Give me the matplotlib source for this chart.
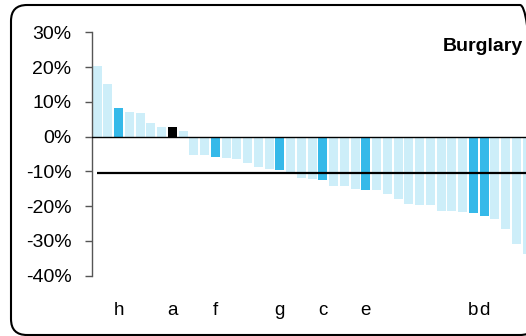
"""
Burglary: change by area, sorted, with highlighted areas.
"""
import matplotlib
matplotlib.use('Agg')
import matplotlib.pyplot as plt
from matplotlib.patches import FancyBboxPatch
from matplotlib.ticker import FixedLocator, PercentFormatter
from matplotlib.transforms import IdentityTransform

plt.rcParams['font.family'] = ['Liberation Sans', 'DejaVu Sans']
plt.rcParams['axes.unicode_minus'] = False

TITLE = 'Burglary'
VALUES = [20.4, 15.0, 8.1, 7.2, 6.7, 3.8, 2.9, 2.9, 1.5, -5.3,
          -5.3, -5.8, -6.1, -6.4, -7.5, -8.7, -9.3, -9.5, -10.2, -11.8,
          -12.1, -12.4, -14.1, -14.1, -15.0, -15.3, -15.3, -16.4, -17.8, -19.5,
          -19.8, -19.8, -21.5, -21.5, -21.8, -22.1, -22.7, -23.8, -26.7, -31.0,
          -33.8]
# bar index -> label
HIGHLIGHT = {2: 'h', 11: 'f', 17: 'g', 21: 'c', 25: 'e', 35: 'b', 36: 'd'}
SELECTED = {7: 'a'}
AVERAGE = -10.6
Y_TICKS = [-40, -30, -20, -10, 0, 10, 20, 30]

LIGHT = '#cdeef9'
BLUE = '#35b9e9'


def main():
    fig = plt.figure(figsize=(5.26, 3.36), dpi=100)
    ax = fig.add_axes([91.7 / 526, 1 - 275.7 / 336, 1 - 91.7 / 526,
                       (275.7 - 32.3) / 336])

    colors = []
    for i in range(len(VALUES)):
        if i in SELECTED:
            colors.append('black')
        elif i in HIGHLIGHT:
            colors.append(BLUE)
        else:
            colors.append(LIGHT)
    xs = list(range(len(VALUES)))
    ax.bar(xs, VALUES, width=0.83, color=colors, zorder=2)

    ax.axhline(0, color='black', lw=1.0, zorder=3)
    ax.hlines(AVERAGE, -0.05, len(VALUES), color='black', lw=1.6, zorder=3)

    labels = {**HIGHLIGHT, **SELECTED}
    for i, lab in labels.items():
        ax.text(i, -51.3, lab, ha='center', va='baseline', fontsize=13.5,
                clip_on=False)

    ax.text(0.992, 0.94, TITLE, transform=ax.transAxes, ha='right',
            va='center', fontsize=14, fontweight='bold')

    ax.set_xlim(-0.51, 39.89)
    ax.set_ylim(-40, 30)
    ax.yaxis.set_major_locator(FixedLocator(Y_TICKS))
    ax.yaxis.set_major_formatter(PercentFormatter(decimals=0))
    ax.tick_params(axis='y', direction='out', length=5, width=1,
                   color='#555555', pad=9.5, labelsize=14)
    ax.tick_params(axis='x', bottom=False, labelbottom=False)
    for side in ['top', 'right', 'bottom']:
        ax.spines[side].set_visible(False)
    ax.spines['left'].set_color('#555555')
    ax.spines['left'].set_linewidth(1)
    ax.patch.set_visible(False)

    # rounded frame round the whole chart (pixel coordinates)
    frame = FancyBboxPatch((11, 1), 525, 330,
                           boxstyle='round,pad=0,rounding_size=16',
                           transform=IdentityTransform(), fill=False,
                           edgecolor='black', lw=1.5)
    fig.add_artist(frame)

    fig.savefig('out.png', dpi=100)
    plt.close()


if __name__ == '__main__':
    main()
